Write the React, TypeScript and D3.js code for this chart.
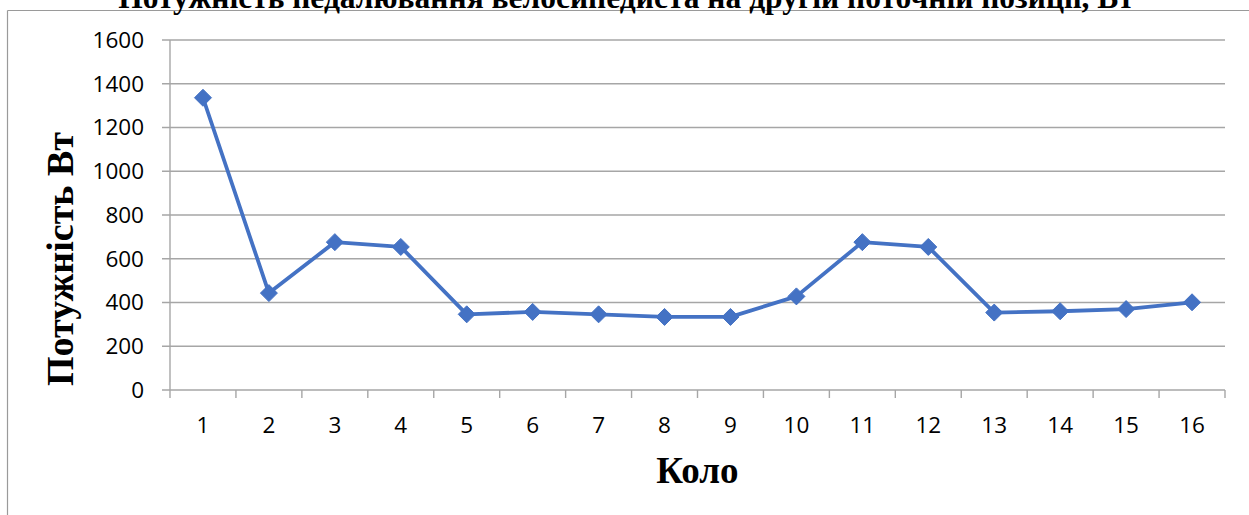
import React from "react";
import * as d3 from "d3";

const laps: string[] = ["1","2","3","4","5","6","7","8","9","10","11","12","13","14","15","16"];
const power: number[] = [1336, 443, 676, 654, 346, 357, 346, 334, 334, 428, 676, 654, 354, 360, 370, 401];
const yTicks: number[] = [0, 200, 400, 600, 800, 1000, 1200, 1400, 1600];
const titleText = "Потужність педалювання велосипедиста на другій поточній позиції, Вт";
const yTitle = "Потужність Вт";
const xTitle = "Коло";

const W = 1249;
const H = 515;
const L = 170, R = 1225, T = 40, B = 390;

export default function App() {
  const x = d3.scaleBand<string>().domain(laps).range([L, R]);
  const y = d3.scaleLinear().domain([0, 1600]).range([B, T]);
  const cx = (d: string) => (x(d) as number) + x.bandwidth() / 2;
  const line = d3.line<number>().x((_, i) => cx(laps[i])).y((v) => y(v));
  const grid = "#a6a6a6";
  const blue = "#4472C4";
  const tickFont = "'Open Sans', sans-serif";
  const serif = "'Liberation Serif', 'Times New Roman', serif";
  const boundaries = [...laps.map((d) => x(d) as number), R];
  const diamond = (px: number, py: number, r: number) =>
    `M${px},${py - r}L${px + r},${py}L${px},${py + r}L${px - r},${py}Z`;

  return (
    <svg width={W} height={H} style={{ position: "absolute", left: 0, top: 0, background: "#fff" }}>
      <rect x={0} y={0} width={W} height={H} fill="#fff" />
      {/* frame */}
      <line x1={7.5} y1={10.5} x2={W} y2={10.5} stroke="#9a9a9a" strokeWidth={1.2} />
      <line x1={7.5} y1={10.5} x2={7.5} y2={H} stroke="#9a9a9a" strokeWidth={1.2} />
      {/* title */}
      <text x={626} y={8} textAnchor="middle" fontFamily={serif} fontWeight="bold" fontSize={31.5} fill="#000">
        {titleText}
      </text>
      {/* gridlines */}
      {yTicks.map((t) => (
        <line key={"g" + t} x1={162} x2={R} y1={y(t)} y2={y(t)} stroke={grid} strokeWidth={1.4} />
      ))}
      {/* y axis */}
      <line x1={L} x2={L} y1={T} y2={B} stroke={grid} strokeWidth={1.4} />
      {/* x ticks */}
      {boundaries.map((b, i) => (
        <line key={"xt" + i} x1={b} x2={b} y1={B} y2={B + 8} stroke={grid} strokeWidth={1.4} />
      ))}
      {/* y tick labels */}
      {yTicks.map((t) => (
        <text key={"yl" + t} x={144} y={y(t)} dy="0.35em" textAnchor="end" fontFamily={tickFont} fontSize={22.5} fill="#000">
          {t}
        </text>
      ))}
      {/* x tick labels */}
      {laps.map((d) => (
        <text key={"xl" + d} x={cx(d)} y={433} textAnchor="middle" fontFamily={tickFont} fontSize={22.5} fill="#000">
          {d}
        </text>
      ))}
      {/* axis titles */}
      <text x={(L + R) / 2} y={483} textAnchor="middle" fontFamily={serif} fontWeight="bold" fontSize={37} fill="#000">
        {xTitle}
      </text>
      <text
        transform={`translate(73, ${(T + B) / 2 + 44}) rotate(-90)`}
        textAnchor="middle"
        fontFamily={serif}
        fontWeight="bold"
        fontSize={38}
        fill="#000"
      >
        {yTitle}
      </text>
      {/* series */}
      <path d={line(power) || ""} fill="none" stroke={blue} strokeWidth={3.8} strokeLinejoin="round" />
      {power.map((v, i) => (
        <path key={"m" + i} d={diamond(cx(laps[i]), y(v), 8.5)} fill={blue} stroke={blue} strokeWidth={1} />
      ))}
    </svg>
  );
}
